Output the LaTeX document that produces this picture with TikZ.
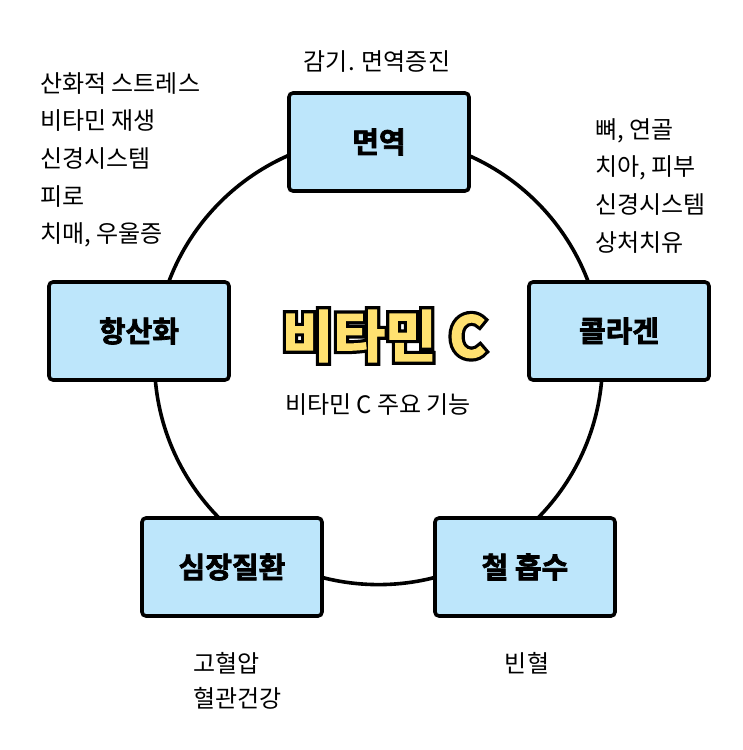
\documentclass[tikz,border=0pt]{standalone}
\usepackage{fontspec}
\setmainfont{Noto Sans CJK KR}[BoldFont={Noto Sans CJK KR Bold}]
\newfontfamily\heavyfont{Noto Sans CJK KR Bold}[FakeBold=2.5]
\newfontfamily\rimfont{Noto Sans CJK KR Bold}[FakeBold=14]
\usetikzlibrary{positioning}

\definecolor{boxblue}{HTML}{BDE6FB}
\definecolor{titleyellow}{HTML}{FFE170}

% yellow title with a black rim: fat black copy, then the yellow text on top
\newcommand{\rimtext}[1]{%
  \rlap{\rimfont\color{black}#1}{\heavyfont\color{titleyellow}#1}}

\begin{document}
\begin{tikzpicture}[
  x=1pt, y=-1pt,
  func/.style={draw, line width=3.6pt, rounded corners=4pt, fill=boxblue,
               minimum width=180pt, minimum height=98pt,
               font=\fontsize{29}{32}\heavyfont},
  note/.style={font=\fontsize{24}{37.7}\selectfont, align=left, inner sep=0pt}
]
  \useasboundingbox (0,0) rectangle (743,750);

  % ring behind the boxes
  \draw[line width=3.6pt] (378.5,360.6) circle[radius=224];

  \node[func] (imm) at (379,142) {면역};
  \node[func] (col) at (619,331) {콜라겐};
  \node[func] (anti) at (139,331) {항산화};
  \node[func] (heart) at (232,567) {심장질환};
  \node[func] (iron) at (525,567) {철 흡수};

  \node[font=\fontsize{56}{58}\selectfont] (title)
    at (384,336) {\rimtext{비타민 C}};
  \node[font=\fontsize{24}{26}\selectfont] (sub) at (378,405) {비타민 C 주요 기능};

  \node[note] (immnote) at (377,62) {감기. 면역증진};
  \node[note, anchor=north west] (antinote) at (40,72)
    {산화적 스트레스\\비타민 재생\\신경시스템\\피로\\치매, 우울증};
  \node[note, anchor=north west] (colnote) at (595,118)
    {뼈, 연골\\치아, 피부\\신경시스템\\상처치유};
  \node[note, anchor=north west, font=\fontsize{24}{35}\selectfont] (heartnote)
    at (193,652) {고혈압\\혈관건강};
  \node[note, anchor=north] (ironnote) at (527,652) {빈혈};
\end{tikzpicture}
\end{document}
